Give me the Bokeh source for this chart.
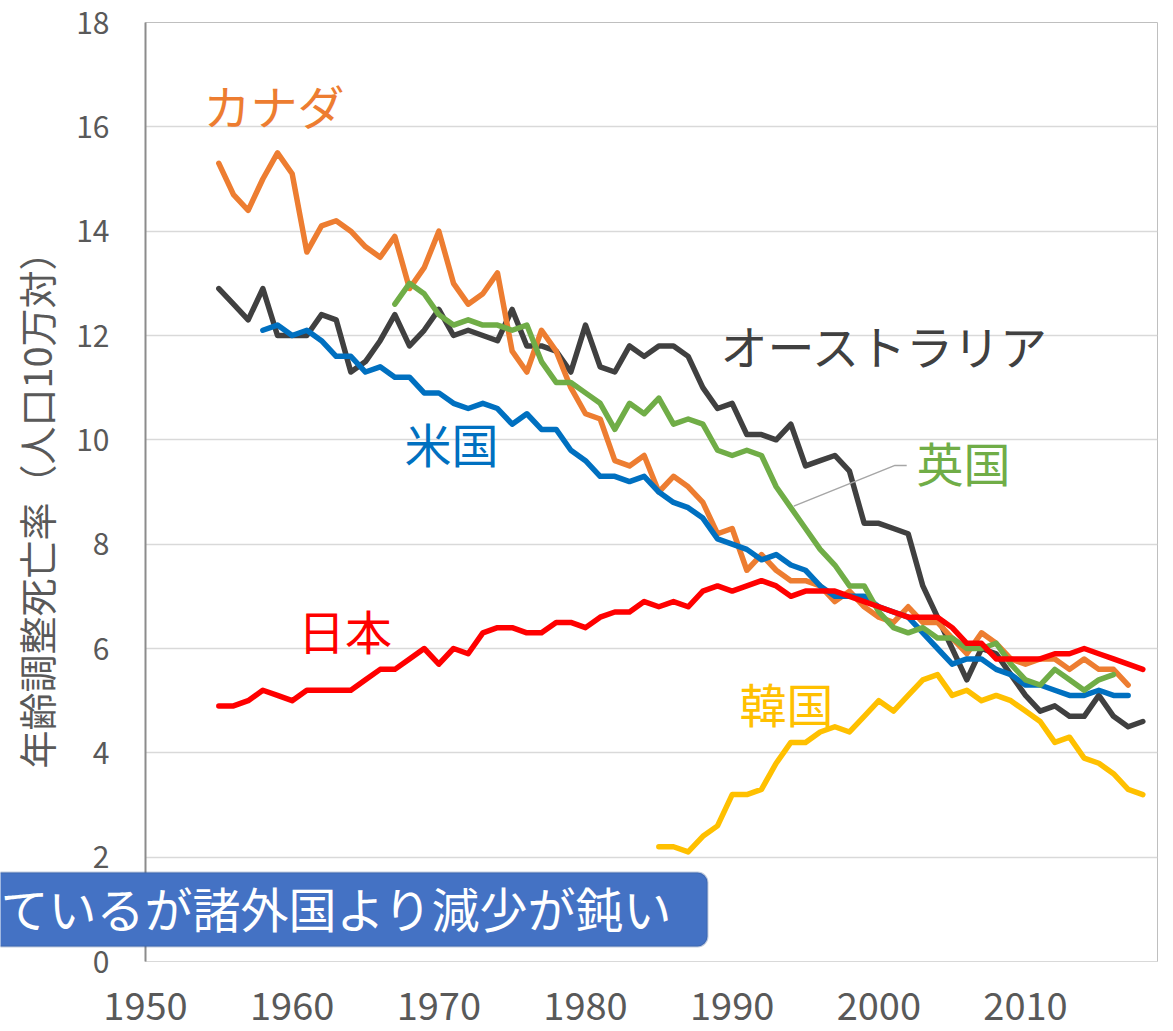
import math
from bokeh.plotting import figure
from bokeh.layouts import column
from bokeh.models import Label, BoxAnnotation, Range1d, FixedTicker
from bokeh.embed import file_html
from bokeh.resources import INLINE

FONT = "Noto Sans CJK JP"

# ---- data (age-adjusted death rate per 100k) ----
canada_years = list(range(1955, 2018))
canada = [15.3, 14.7, 14.4, 15.0, 15.5, 15.1, 13.6, 14.1, 14.2, 14.0,
          13.7, 13.5, 13.9, 12.9, 13.3, 14.0, 13.0, 12.6, 12.8, 13.2,
          11.7, 11.3, 12.1, 11.7, 11.0, 10.5, 10.4, 9.6, 9.5, 9.7,
          9.0, 9.3, 9.1, 8.8, 8.2, 8.3, 7.5, 7.8, 7.5, 7.3,
          7.3, 7.2, 6.9, 7.1, 6.8, 6.6, 6.5, 6.8, 6.5, 6.5,
          6.2, 5.9, 6.3, 6.1, 5.8, 5.7, 5.8, 5.8, 5.6, 5.8,
          5.6, 5.6, 5.3]

australia_years = list(range(1955, 2019))
australia = [12.9, 12.6, 12.3, 12.9, 12.0, 12.0, 12.0, 12.4, 12.3, 11.3,
             11.5, 11.9, 12.4, 11.8, 12.1, 12.5, 12.0, 12.1, 12.0, 11.9,
             12.5, 11.8, 11.8, 11.7, 11.3, 12.2, 11.4, 11.3, 11.8, 11.6,
             11.8, 11.8, 11.6, 11.0, 10.6, 10.7, 10.1, 10.1, 10.0, 10.3,
             9.5, 9.6, 9.7, 9.4, 8.4, 8.4, 8.3, 8.2, 7.2, 6.6,
             6.0, 5.4, 6.0, 5.9, 5.5, 5.1, 4.8, 4.9, 4.7, 4.7,
             5.1, 4.7, 4.5, 4.6]

us_years = list(range(1958, 2018))
us = [12.1, 12.2, 12.0, 12.1, 11.9, 11.6, 11.6, 11.3, 11.4, 11.2,
      11.2, 10.9, 10.9, 10.7, 10.6, 10.7, 10.6, 10.3, 10.5, 10.2,
      10.2, 9.8, 9.6, 9.3, 9.3, 9.2, 9.3, 9.0, 8.8, 8.7,
      8.5, 8.1, 8.0, 7.9, 7.7, 7.8, 7.6, 7.5, 7.2, 7.0,
      7.0, 7.0, 6.8, 6.7, 6.6, 6.3, 6.0, 5.7, 5.8, 5.8,
      5.6, 5.5, 5.3, 5.3, 5.2, 5.1, 5.1, 5.2, 5.1, 5.1]

uk_years = list(range(1967, 2017))
uk = [12.6, 13.0, 12.8, 12.4, 12.2, 12.3, 12.2, 12.2, 12.1, 12.2,
      11.5, 11.1, 11.1, 10.9, 10.7, 10.2, 10.7, 10.5, 10.8, 10.3,
      10.4, 10.3, 9.8, 9.7, 9.8, 9.7, 9.1, 8.7, 8.3, 7.9,
      7.6, 7.2, 7.2, 6.7, 6.4, 6.3, 6.4, 6.2, 6.2, 6.0,
      6.0, 6.1, 5.7, 5.4, 5.3, 5.6, 5.4, 5.2, 5.4, 5.5]

korea_years = list(range(1985, 2019))
korea = [2.2, 2.2, 2.1, 2.4, 2.6, 3.2, 3.2, 3.3, 3.8, 4.2,
         4.2, 4.4, 4.5, 4.4, 4.7, 5.0, 4.8, 5.1, 5.4, 5.5,
         5.1, 5.2, 5.0, 5.1, 5.0, 4.8, 4.6, 4.2, 4.3, 3.9,
         3.8, 3.6, 3.3, 3.2]

japan_years = list(range(1955, 2019))
japan = [4.9, 4.9, 5.0, 5.2, 5.1, 5.0, 5.2, 5.2, 5.2, 5.2,
         5.4, 5.6, 5.6, 5.8, 6.0, 5.7, 6.0, 5.9, 6.3, 6.4,
         6.4, 6.3, 6.3, 6.5, 6.5, 6.4, 6.6, 6.7, 6.7, 6.9,
         6.8, 6.9, 6.8, 7.1, 7.2, 7.1, 7.2, 7.3, 7.2, 7.0,
         7.1, 7.1, 7.1, 7.0, 6.9, 6.8, 6.7, 6.6, 6.6, 6.6,
         6.4, 6.1, 6.1, 5.8, 5.8, 5.8, 5.8, 5.9, 5.9, 6.0,
         5.9, 5.8, 5.7, 5.6]

y_ticks = [0, 2, 4, 6, 8, 10, 12, 14, 16, 18]
x_ticks = [1950, 1960, 1970, 1980, 1990, 2000, 2010]
y_title = "年齢調整死亡率（人口10万対）"

# series label annotations: (text, x, y, color)
series_labels = [
    ("カナダ", 1953.95, 16.43, "#ED7D31"),
    ("オーストラリア", 1989.2, 11.83, "#404040"),
    ("米国", 1967.66, 9.95, "#0070C0"),
    ("英国", 2002.56, 9.58, "#70AD47"),
    ("日本", 1960.4, 6.36, "#FF0000"),
    ("韓国", 1990.5, 4.97, "#FFC000"),
]
uk_leader_x = [1994.2, 2001.1, 2001.9]
uk_leader_y = [8.73, 9.51, 9.51]
callout_text = "ているが諸外国より減少が鈍い"

W, H = 1170, 1031

p = figure(width=W, height=H,
           x_range=Range1d(1950, 2019), y_range=Range1d(0, 18),
           output_backend="svg", toolbar_location=None,
           min_border_left=145, min_border_right=13,
           min_border_top=22, min_border_bottom=70)
p.frame_align = False
p.background_fill_color = "white"
p.border_fill_color = "white"
p.outline_line_color = "#BFBFBF"
p.outline_line_width = 1

# grid
p.xgrid.grid_line_color = None
p.ygrid.ticker = FixedTicker(ticks=y_ticks)
p.ygrid.grid_line_color = "#D9D9D9"
p.ygrid.grid_line_width = 1.5

# y axis
p.yaxis.ticker = FixedTicker(ticks=y_ticks)
p.yaxis.major_tick_line_color = None
p.yaxis.minor_tick_line_color = None
p.yaxis.axis_line_color = "#8C8C8C"
p.yaxis.axis_line_width = 2
p.yaxis.major_label_text_font = FONT
p.yaxis.major_label_text_font_size = "30px"
p.yaxis.major_label_text_color = "#595959"
p.yaxis.major_label_standoff = 30

# x axis
p.xaxis.ticker = FixedTicker(ticks=x_ticks)
p.xaxis.major_tick_line_color = None
p.xaxis.minor_tick_line_color = None
p.xaxis.axis_line_color = "#D9D9D9"
p.xaxis.major_label_text_font = FONT
p.xaxis.major_label_text_font_size = "38px"
p.xaxis.major_label_text_color = "#595959"
p.xaxis.major_label_standoff = 24

kw = dict(line_width=5.5, line_cap="round", line_join="round")
p.line(australia_years, australia, color="#404040", **kw)
p.line(canada_years, canada, color="#ED7D31", **kw)
p.line(us_years, us, color="#0070C0", **kw)
p.line(uk_years, uk, color="#70AD47", **kw)
p.line(korea_years, korea, color="#FFC000", **kw)
p.line(japan_years, japan, color="#FF0000", **kw)

p.line(uk_leader_x, uk_leader_y, color="#A6A6A6", line_width=1.5)

for txt, x, y, c in series_labels:
    p.add_layout(Label(x=x, y=y, text=txt, text_font=FONT, text_font_size="47px",
                       text_color=c, text_baseline="middle", text_align="left"))

# ---- transparent overlay (pixel coordinates) for texts outside the plot area ----
OW = 720
ov = figure(width=OW, height=H, x_range=Range1d(0, OW), y_range=Range1d(H, 0),
            x_axis_location=None, y_axis_location=None,
            min_border=0, min_border_left=0, min_border_right=0,
            min_border_top=0, min_border_bottom=0,
            output_backend="svg", toolbar_location=None)
ov.frame_align = False
ov.background_fill_color = None
ov.border_fill_color = None
ov.outline_line_color = None
ov.grid.visible = False
ov.margin = (-H, 0, 0, 0)

ov.add_layout(Label(x=35, y=500, text=y_title, angle=math.pi / 2,
                    text_font=FONT, text_font_size="38px", text_color="#595959",
                    text_baseline="middle", text_align="center"))

ov.add_layout(BoxAnnotation(left=-20, right=707, top=872, bottom=946,
                            fill_color="#4472C4", fill_alpha=1.0,
                            line_color="#2F528F", line_width=2, border_radius=10))
ov.add_layout(Label(x=0, y=906, text=callout_text,
                    text_font=FONT, text_font_size="48px", text_color="white",
                    text_baseline="middle", text_align="left"))

layout = column(p, ov, spacing=0)
open("out.html", "w").write(file_html(layout, INLINE))
